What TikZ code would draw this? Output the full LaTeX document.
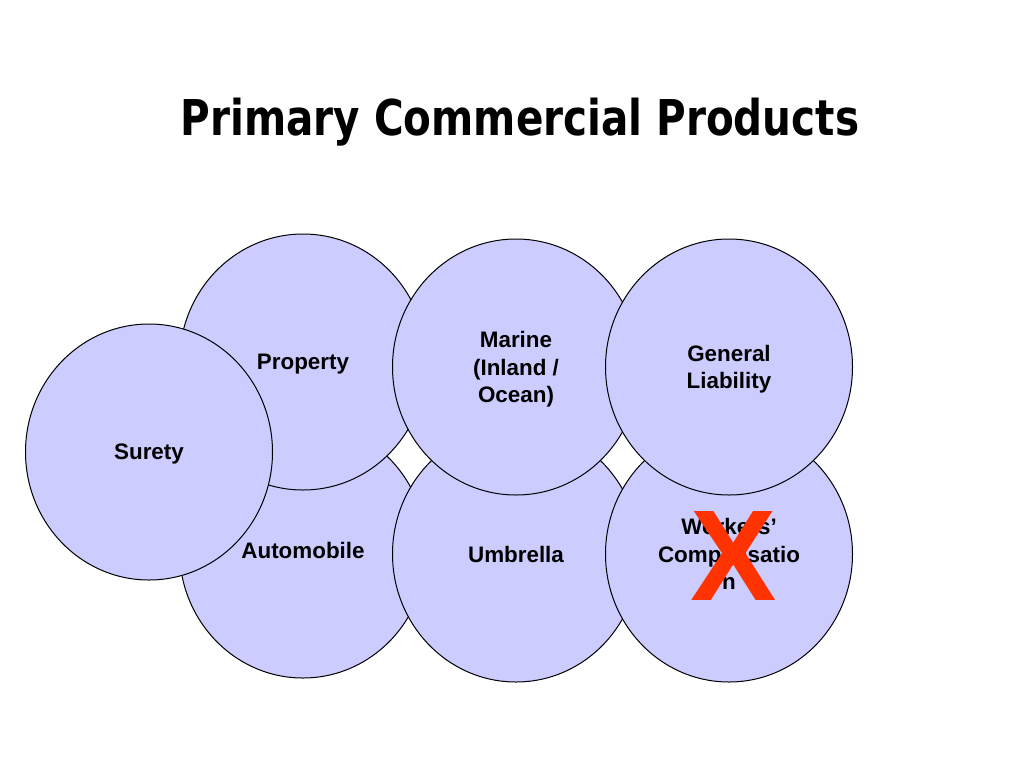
\documentclass[tikz,border=0pt]{standalone}
\usepackage{fontspec}
\setmainfont{Liberation Sans}
\newfontfamily\titlefont{DejaVu Sans Condensed}
\usetikzlibrary{shapes.geometric}
\definecolor{prodfill}{RGB}{204,204,255}
\definecolor{crossred}{RGB}{255,51,0}
\tikzset{every picture/.style={line width=0.75pt}}

\begin{document}
\begin{tikzpicture}[x=0.75pt,y=0.75pt,yscale=-1,xscale=1,
  prod/.style={ellipse, draw=black, fill=prodfill, minimum width=185.25pt, minimum height=192pt, inner sep=0pt, align=center, text depth=0pt, font=\fontsize{16.8}{20.6}\selectfont\bfseries}]
\useasboundingbox (0,0) rectangle (1024,768);
\fill[white] (0,0) rectangle (1024,768);
\draw (520,135) node (title) [anchor=base][inner sep=0pt] {\scalebox{0.912}[1]{\titlefont\fontsize{37}{44}\selectfont\bfseries Primary Commercial Products}};
% bottom row and top row, back to front
\node (auto) [prod] at (303,550) {Automobile};
\node (prop) [prod] at (303,362) {Property};
\node (umb) [prod] at (516,554) {Umbrella};
\node (mar) [prod] at (516,367) {Marine\\(Inland /\\Ocean)};
\node (wc) [prod] at (729,554) {Workers’\\Compensatio\\n};
\node (gl) [prod] at (729,367) {General\\Liability};
\node (sur) [prod] at (149,452) {Surety};
% crossed out
\draw (734,600) node (cross) [anchor=base][inner sep=0pt] {\color{crossred}\fontsize{97}{97}\selectfont\bfseries X};
\end{tikzpicture}
\end{document}
